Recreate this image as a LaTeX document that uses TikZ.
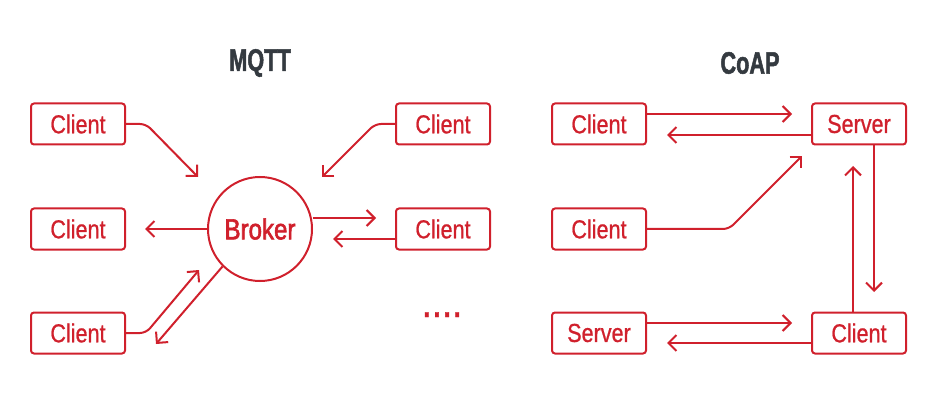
\documentclass[tikz,border=0pt]{standalone}
\usepackage{fontspec}
\setmainfont{Liberation Sans}[FakeStretch=0.83, FakeBold=0.8]
\newfontfamily\titlefont{Liberation Sans Bold}[FakeStretch=0.7, FakeBold=1.6]
\newfontfamily\brokerfont{Liberation Sans}[FakeStretch=0.83, FakeBold=2]
\usetikzlibrary{arrows.meta}
\tikzset{>={Straight Barb[length=8pt,width=16pt]}}
\definecolor{iotred}{RGB}{208,32,44}
\definecolor{titlegray}{RGB}{52,58,64}
\tikzset{
  box/.style={draw=iotred, line width=2pt, rounded corners=3pt, minimum width=94pt,
    minimum height=41pt, text=iotred, font=\fontsize{26}{26}\selectfont},
  heading/.style={text=titlegray, font=\titlefont\fontsize{31}{31}\selectfont},
  link/.style={->, draw=iotred, line width=2pt, rounded corners=6pt},
}

\begin{document}
\begin{tikzpicture}[x=1pt, y=-1pt]
      \useasboundingbox (0, 0) rectangle (938, 417);
      % titles
      \node[heading] (mqtt) at (260, 63) {MQTT};
      \node[heading] (coap) at (750, 63) {CoAP};
      % nodes (MQTT)
      \node[box] (lc1) at (78, 124) {Client};
      \node[box] (lc2) at (78, 229) {Client};
      \node[box] (lc3) at (78, 333) {Client};
      \node[box] (rc1) at (443, 124) {Client};
      \node[box] (rc2) at (443, 229) {Client};
      \node[draw=iotred, line width=2pt, circle, minimum size=104pt, text=iotred,
        font=\brokerfont\fontsize{29}{29}\selectfont] (broker) at (260, 229) {Broker};
      \node[text=iotred, font=\fontsize{44}{44}\selectfont, anchor=base] (more) at (442, 317) {....};
      % nodes (CoAP)
      \node[box] (cc1) at (599, 124) {Client};
      \node[box] (cs1) at (859, 124) {Server};
      \node[box] (cc2) at (599, 229) {Client};
      \node[box] (cs2) at (599, 333) {Server};
      \node[box] (cc3) at (859, 333) {Client};
      % arrow tips
      \coordinate (t1) at (198, 177);
      \coordinate (t2) at (145, 229);
      \coordinate (t3) at (199, 270);
      \coordinate (t4) at (156, 344);
      \coordinate (t5) at (322, 177);
      \coordinate (t6) at (376, 218);
      \coordinate (t7) at (333, 239);
      \coordinate (t8) at (792, 114);
      \coordinate (t9) at (667, 135);
      \coordinate (t10) at (802, 156);
      \coordinate (t11) at (874, 292);
      \coordinate (t12) at (853, 166);
      \coordinate (t13) at (792, 323);
      \coordinate (t14) at (667, 343);
      % lines (MQTT)
      \draw[link] (lc1.east) -- ++(20, 0) -- (t1);
      \draw[link] (broker.west) -- (t2);
      \draw[link] (lc3.east) -- ++(20, 0) -- (t3);
      \draw[link] (broker.-135) -- (t4);
      \draw[link] (rc1.west) -- ++(-20, 0) -- (t5);
      \draw[link] (broker.east |- t6) -- (t6);
      \draw[link] (rc2.west |- t7) -- (t7);
      % lines (CoAP)
      \draw[link] (cc1.east |- t8) -- (t8);
      \draw[link] (cs1.west |- t9) -- (t9);
      \draw[link] (cc2.east) -- ++(82, 0) -- (t10);
      \draw[link] (cs1.south -| t11) -- (t11);
      \draw[link] (cc3.north -| t12) -- (t12);
      \draw[link] (cs2.east |- t13) -- (t13);
      \draw[link] (cc3.west |- t14) -- (t14);
\end{tikzpicture}
\end{document}
